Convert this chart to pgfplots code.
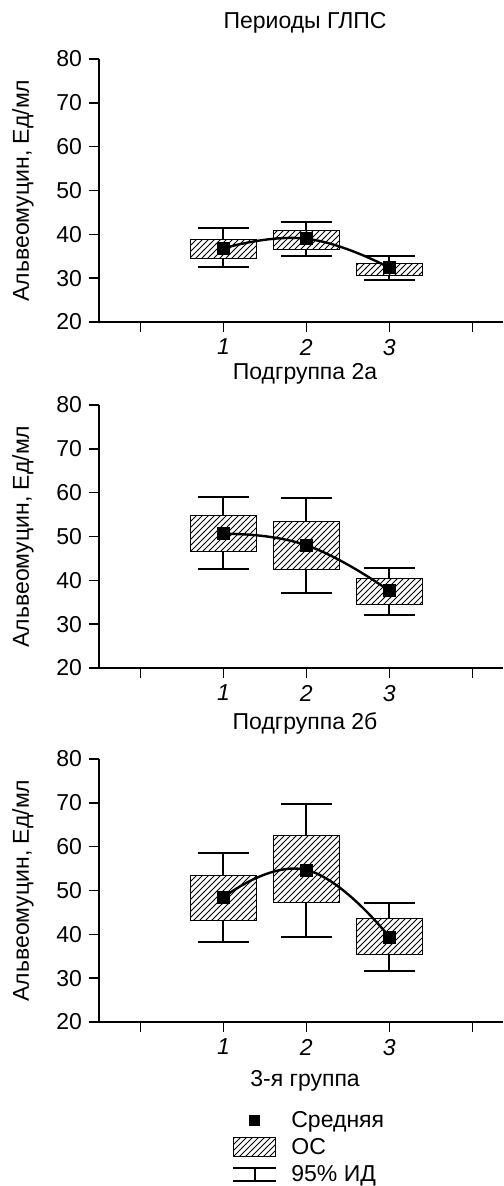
\documentclass[border=0pt]{standalone}
\usepackage{fontspec}
\setmainfont{Liberation Sans}
\usepackage{pgfplots}
\pgfplotsset{compat=1.18}
\usetikzlibrary{patterns}

% box (SE): position, lower edge, upper edge
\newcommand{\ocbox}[3]{\addplot[black, line width=0.5pt, fill=white,
  postaction={pattern=north east lines}]
  coordinates {(#1-0.4,#2) (#1+0.4,#2) (#1+0.4,#3) (#1-0.4,#3) (#1-0.4,#2)};}

\pgfplotsset{
  panel/.style={
    scale only axis, width=202pt, height=131.5pt,
    xmin=-0.5, xmax=4.37, ymin=20, ymax=80,
    axis x line=bottom, axis y line=left,
    axis line style={-, line width=0.8pt},
    tick align=outside, major tick length=5pt,
    tick style={line width=0.8pt, black},
    xtick={0,1,2,3,4}, xticklabels={,\itshape 1,\itshape 2,\itshape 3,},
    ytick={20,30,...,80},
    /pgf/number format/assume math mode=true,
    font=\fontsize{11.5}{13.6}\selectfont,
    ylabel={Альвеомуцин, Ед/мл},
    every axis y label/.style={at={(axis description cs:0,0.5)}, xshift=-38pt,
      rotate=90, anchor=center},
    title style={at={(axis description cs:0.51,1)}, anchor=base},
    clip=false,
  },
  whisk/.style={only marks, mark=none, black,
    error bars/.cd, y dir=both, y explicit,
    error bar style={line width=1pt, black},
    error mark=-, error mark options={black, line width=1pt, mark size=12.9pt, rotate=90}},
  mean/.style={only marks, mark=square*, mark size=3pt, black},
  trend/.style={black, line width=1.2pt, smooth, tension=0.8},
}

\begin{document}
\begin{tikzpicture}
\useasboundingbox (-49.5pt,-432pt) rectangle (202pt,161pt);

\begin{axis}[panel, at={(0pt,0pt)}, anchor=south west,
  title={Периоды ГЛПС}, title style={yshift=9.2pt}]
  % 95% CI: mean, + to upper, - to lower
  \addplot[whisk] coordinates {(1,36.8) += (0,4.7) -= (0,4.2)
    (2,39.0) += (0,3.8) -= (0,3.9) (3,32.4) += (0,2.6) -= (0,2.9)};
  \ocbox{1}{34.5}{38.8}
  \ocbox{2}{36.6}{40.9}
  \ocbox{3}{30.5}{33.4}
  \addplot[trend] coordinates {(1,36.8) (2,39.0) (3,32.4)};
  \addplot[mean] coordinates {(1,36.8) (2,39.0) (3,32.4)};
\end{axis}

\begin{axis}[panel, at={(0pt,-173pt)}, anchor=south west,
  title={Подгруппа 2а}, title style={yshift=7pt}]
  \addplot[whisk] coordinates {(1,50.6) += (0,8.3) -= (0,8.1)
    (2,48.0) += (0,10.8) -= (0,10.8) (3,37.6) += (0,5.3) -= (0,5.5)};
  \ocbox{1}{46.6}{54.9}
  \ocbox{2}{42.4}{53.5}
  \ocbox{3}{34.6}{40.4}
  \addplot[trend] coordinates {(1,50.6) (2,48.0) (3,37.6)};
  \addplot[mean] coordinates {(1,50.6) (2,48.0) (3,37.6)};
\end{axis}

\begin{axis}[panel, at={(0pt,-350pt)}, anchor=south west,
  title={Подгруппа 2б}, title style={yshift=8.7pt},
  xlabel={3-я группа},
  xlabel style={at={(axis description cs:0.51,0)}, anchor=base, yshift=-32.2pt},
  legend cell align=left,
  legend style={at={(axis description cs:0.329,-0.319)}, anchor=north west,
    draw=none, fill=none, inner sep=0pt, row sep=0pt,
    nodes={inner sep=0pt, text height=10.5pt, text depth=3.1pt}}]
  \addlegendimage{legend image code/.code={
    \fill[black] (0.375cm-2.5pt,-2.5pt) rectangle (0.375cm+2.5pt,2.5pt);
    \path (0cm,0pt) (0.75cm+7.5pt,0pt);}}
  \addlegendentry{Средняя}
  \addlegendimage{legend image code/.code={
    \draw[line width=0.5pt, pattern=north east lines] (0cm,-4.75pt) rectangle (0.75cm,4.75pt);
    \path (0.75cm+7.5pt,0pt);}}
  \addlegendentry{ОС}
  \addlegendimage{legend image code/.code={
    \draw[line width=1pt] (0cm,3.25pt) -- (0.75cm,3.25pt)
      (0cm,-3.25pt) -- (0.75cm,-3.25pt) (0.375cm,3.25pt) -- (0.375cm,-3.25pt);
    \path (0.75cm+7.5pt,0pt);}}
  \addlegendentry{95\% ИД}
  \addplot[whisk] coordinates {(1,48.4) += (0,10.1) -= (0,10.1)
    (2,54.7) += (0,15.0) -= (0,15.3) (3,39.4) += (0,7.7) -= (0,7.7)};
  \ocbox{1}{43.1}{53.4}
  \ocbox{2}{47.3}{62.5}
  \ocbox{3}{35.5}{43.7}
  \addplot[trend] coordinates {(1,48.4) (2,54.7) (3,39.4)};
  \addplot[mean] coordinates {(1,48.4) (2,54.7) (3,39.4)};
\end{axis}
\end{tikzpicture}
\end{document}
